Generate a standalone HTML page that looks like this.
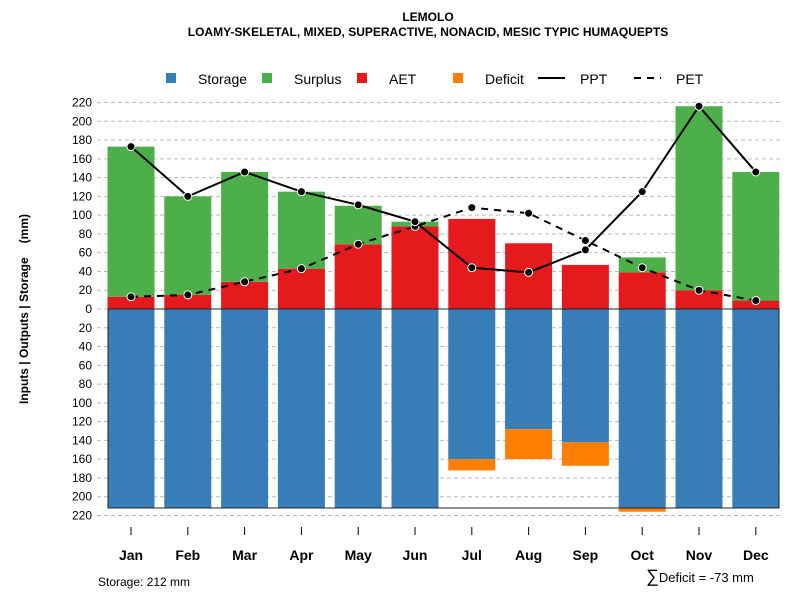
<!DOCTYPE html>
<html><head><meta charset="utf-8"><style>
body{margin:0;background:#fff;font-family:"Liberation Sans",sans-serif}
</style></head><body>
<svg id="c" width="800" height="600" xmlns="http://www.w3.org/2000/svg" font-family="Liberation Sans, sans-serif">
<text x="428" y="21" text-anchor="middle" font-size="12" font-weight="bold">LEMOLO</text>
<text x="428" y="36" text-anchor="middle" font-size="12" font-weight="bold">LOAMY-SKELETAL, MIXED, SUPERACTIVE, NONACID, MESIC TYPIC HUMAQUEPTS</text>
<text transform="translate(28,309) rotate(-90)" text-anchor="middle" font-size="12" font-weight="bold">Inputs | Outputs | Storage<tspan dx="14">(mm)</tspan></text>
<text x="98" y="586" font-size="12">Storage: 212 mm</text>
<text x="646" y="582" font-size="13"><tspan font-size="18">∑</tspan>Deficit = -73 mm</text>
<g id="legend">
<rect x="166" y="73" width="10" height="10" fill="#377eb8"/><text x="198" y="84" font-size="14">Storage</text>
<rect x="262" y="73" width="10" height="10" fill="#4daf4a"/><text x="294" y="84" font-size="14">Surplus</text>
<rect x="357" y="73" width="10" height="10" fill="#e41a1c"/><text x="389" y="84" font-size="14">AET</text>
<rect x="453" y="73" width="10" height="10" fill="#ff7f00"/><text x="485" y="84" font-size="14">Deficit</text>
<line x1="538" y1="78" x2="565" y2="78" stroke="#000" stroke-width="2"/><text x="580" y="84" font-size="14">PPT</text>
<line x1="634" y1="78" x2="661" y2="78" stroke="#000" stroke-width="2" stroke-dasharray="7,6"/><text x="676" y="84" font-size="14">PET</text>
</g>
<g id="grid"></g><g id="bars"></g><g id="lines"></g><g id="axes"></g>
</svg>
<script>
const months=["Jan","Feb","Mar","Apr","May","Jun","Jul","Aug","Sep","Oct","Nov","Dec"];
const ppt=[173,120,146,125,111,93,44,39,63,125,216,146];
const pet=[13,15,29,43,69,88,108,102,73,44,20,9];
const aet=[13,15,29,43,69,88,96,70,47,39,20,9];
const surplus=[160,105,117,82,41,5,0,0,0,16,196,137];
const storage=[212,212,212,212,212,212,160,128,142,212,212,212];
const deficit=[0,0,0,0,0,0,12,32,25,4,0,0];
const yTicks=[220,200,180,160,140,120,100,80,60,40,20,0,-20,-40,-60,-80,-100,-120,-140,-160,-180,-200,-220];
const NS="http://www.w3.org/2000/svg";
const y=v=>309-v*0.9386;
const x=i=>131+i*56.8;
const bw=47;
function mk(t,a,p){const e=document.createElementNS(NS,t);for(const k in a)e.setAttribute(k,a[k]);document.getElementById(p).appendChild(e);return e;}
yTicks.forEach(v=>{
 const g=mk('line',{x1:97,x2:780,y1:y(v),y2:y(v),stroke:'#bbb','stroke-dasharray':'4,3'},'grid');
 
 
 const t=mk('text',{x:92,y:y(v)+4,'text-anchor':'end','font-size':12},'axes');t.textContent=Math.abs(v);
 
 
});
months.forEach((m,i)=>{
 const cx=x(i);
 const r1=mk('rect',{x:cx-bw/2,y:y(0),width:bw,height:y(-storage[i])-y(0),fill:'#377eb8'},'bars');
 
 
 if(deficit[i]>0){const r=mk('rect',{x:cx-bw/2,y:y(-storage[i]),width:bw,height:y(-storage[i]-deficit[i])-y(-storage[i]),fill:'#ff7f00'},'bars');
 
 }
 const r2=mk('rect',{x:cx-bw/2,y:y(aet[i]),width:bw,height:y(0)-y(aet[i]),fill:'#e41a1c'},'bars');
 
 
 if(surplus[i]>0){const r=mk('rect',{x:cx-bw/2,y:y(aet[i]+surplus[i]),width:bw,height:y(aet[i])-y(aet[i]+surplus[i]),fill:'#4daf4a'},'bars');
 
 }
 const tk=mk('line',{x1:cx,x2:cx,y1:527,y2:535,stroke:'#000'},'axes');
 
 
 const t=mk('text',{x:cx,y:560,'text-anchor':'middle','font-size':14,'font-weight':'bold'},'axes');t.textContent=m;
 
 
});
const box=mk('rect',{x:108,y:y(0),width:671,height:y(-212)-y(0),fill:'none',stroke:'#222','stroke-width':1},'bars');


function series(arr,name,dash){
 const pl=mk('polyline',{points:arr.map((v,i)=>x(i)+','+y(v)).join(' '),fill:'none',stroke:'#000','stroke-width':2,'stroke-dasharray':dash},'lines');
 
 
 arr.forEach((v,i)=>{const c=mk('circle',{cx:x(i),cy:y(v),r:4,fill:'#000',stroke:'#fff','stroke-width':1},'lines');
 
 });
}
series(pet,'pet','7,6');
series(ppt,'ppt','none');
</script>
</body></html>
